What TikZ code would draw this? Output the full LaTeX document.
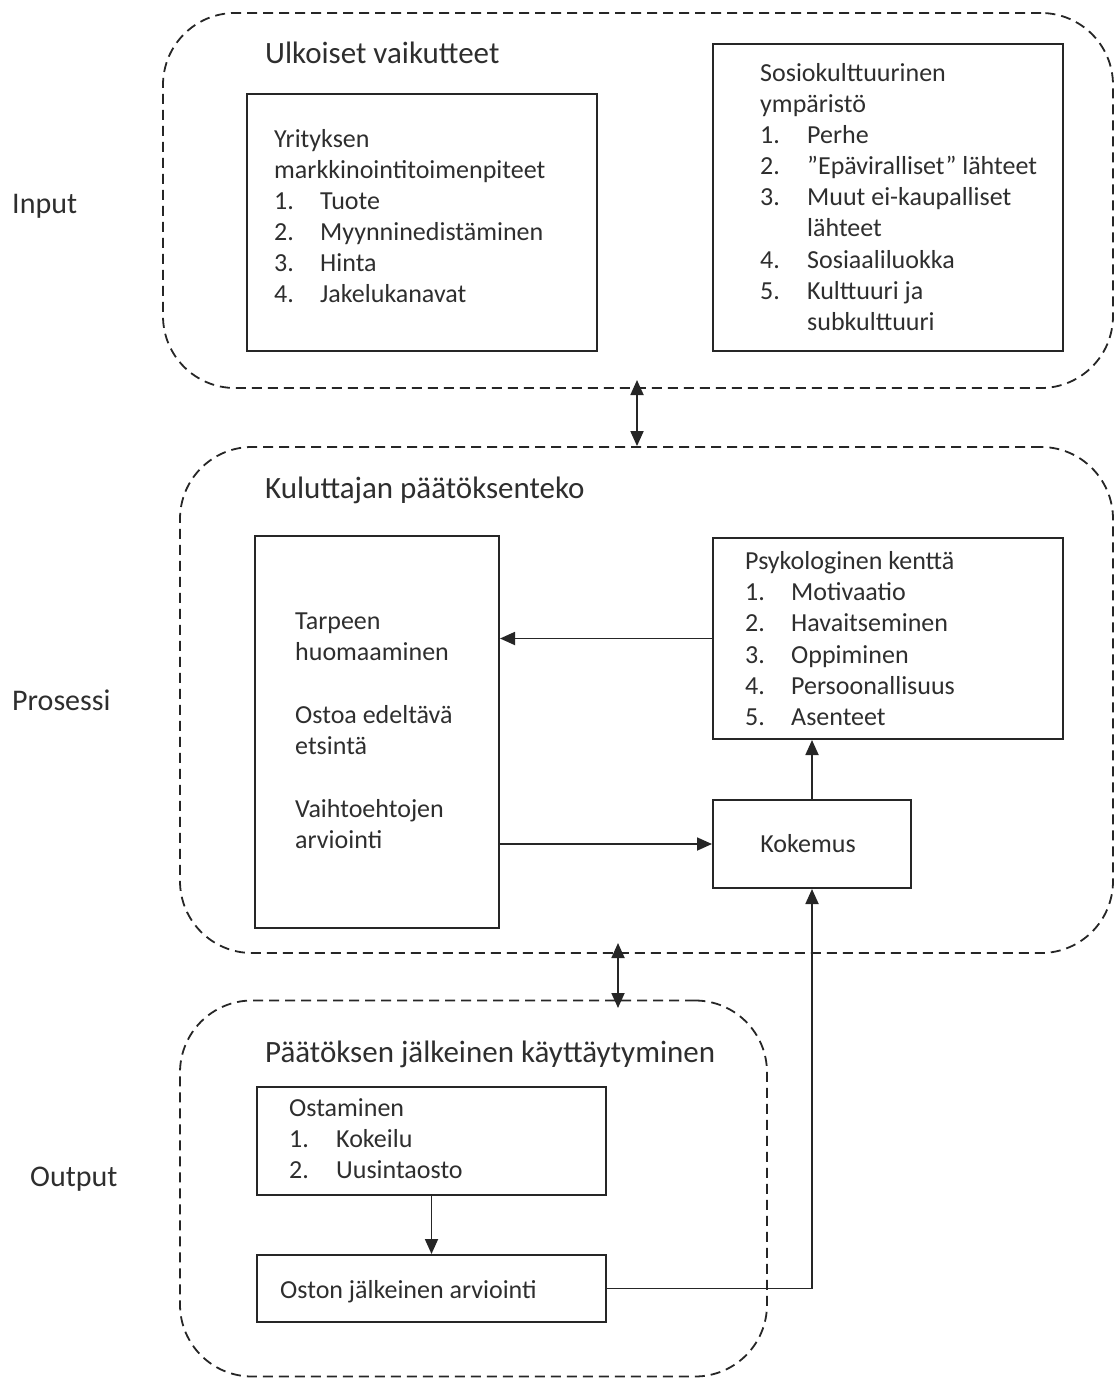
\documentclass[tikz,border=0pt]{standalone}
\usepackage{fontspec}
\setmainfont{Carlito}
\usetikzlibrary{arrows.meta}
\definecolor{ink}{HTML}{262626}
\definecolor{txt}{HTML}{2E2E2E}
\begin{document}
\begin{tikzpicture}[x=1pt,y=-1pt,
  frame/.style={draw=ink, line width=1.8pt, dash pattern=on 10pt off 6pt,
    rounded corners=72pt, inner sep=0pt},
  box/.style={draw=ink, line width=2pt, inner sep=0pt},
  conn/.style={draw=ink, line width=1.8pt, -{Triangle[length=15pt,width=13pt]}},
  both/.style={draw=ink, line width=1.8pt,
    {Triangle[length=15pt,width=13pt]}-{Triangle[length=15pt,width=13pt]}},
  body/.style={font=\fontsize{26}{31}\selectfont, text=txt, inner sep=0pt,
    anchor=west, text height=20pt, text depth=3pt},
  head/.style={font=\fontsize{31}{36}\selectfont, text=txt, inner sep=0pt,
    anchor=west, text height=24pt, text depth=3pt},
  side/.style={head, font=\fontsize{30}{35}\selectfont}
]
\useasboundingbox (0,0) rectangle (1115,1378);

% dashed group frames
\node[frame, minimum width=950pt, minimum height=375pt] (fin) at (638,200.5) {};
\node[frame, minimum width=933pt, minimum height=506pt] (fproc) at (646.5,700) {};
\node[frame, minimum width=587pt, minimum height=376pt] (fout) at (473.5,1188.5) {};

% side labels
\node[side] (lin) at (12,203) {Input};
\node[side] (lproc) at (12,700) {Prosessi};
\node[side] (lout) at (30,1176) {Output};

% group headings
\node[head] (hin) at (265,53) {Ulkoiset vaikutteet};
\node[head] (hproc) at (265,488) {Kuluttajan päätöksenteko};
\node[head] (hout) at (265,1052) {Päätöksen jälkeinen käyttäytyminen};

% input boxes
\node[box, minimum width=350pt, minimum height=257pt] (yrit) at (422,222.5) {};
\node[box, minimum width=350pt, minimum height=307pt] (sosio) at (888,197.5) {};

\node[body] (y1) at (274,139) {Yrityksen};
\node[body] (y2) at (274,170) {markkinointitoimenpiteet};
\foreach \n/\y/\t in {1/201/Tuote, 2/232/Myynninedistäminen, 3/263/Hinta, 4/294/Jakelukanavat}{
  \node[body] (yn\n) at (274,\y) {\n.};
  \node[body] (yt\n) at (320,\y) {\t};
}

\node[body] (s1) at (760,73) {Sosiokulttuurinen};
\node[body] (s2) at (760,104) {ympäristö};
\foreach \n/\y/\t in {1/135/Perhe, 2/166/”Epäviralliset” lähteet, 3/197/Muut ei-kaupalliset,
  4/260/Sosiaaliluokka, 5/291/Kulttuuri ja}{
  \node[body] (sn\n) at (760,\y) {\n.};
  \node[body] (st\n) at (807,\y) {\t};
}
\node[body] (st3b) at (807,228) {lähteet};
\node[body] (st5b) at (807,322) {subkulttuuri};

% process boxes
\node[box, minimum width=244pt, minimum height=392pt] (left) at (377,732) {};
\node[box, minimum width=350pt, minimum height=201pt] (psyk) at (888,638.5) {};
\node[box, minimum width=198pt, minimum height=88pt] (kok) at (812,844) {};

\node[body] (p1) at (295,621) {Tarpeen};
\node[body] (p2) at (295,652) {huomaaminen};
\node[body] (p3) at (295,715) {Ostoa edeltävä};
\node[body] (p4) at (295,746) {etsintä};
\node[body] (p5) at (295,809) {Vaihtoehtojen};
\node[body] (p6) at (295,840) {arviointi};

\node[body] (k0) at (745,561) {Psykologinen kenttä};
\foreach \n/\y/\t in {1/592/Motivaatio, 2/623/Havaitseminen, 3/655/Oppiminen,
  4/686/Persoonallisuus, 5/717/Asenteet}{
  \node[body] (kn\n) at (745,\y) {\n.};
  \node[body] (kt\n) at (791,\y) {\t};
}
\node[body, anchor=center] (ktext) at ([xshift=-4pt]kok.center) {Kokemus};

% output boxes
\node[box, minimum width=349pt, minimum height=108pt] (ost) at (431.5,1141) {};
\node[box, minimum width=349pt, minimum height=67pt] (oston) at (431.5,1288.5) {};

\node[body] (o0) at (289,1108) {Ostaminen};
\foreach \n/\y/\t in {1/1139/Kokeilu, 2/1170/Uusintaosto}{
  \node[body] (on\n) at (289,\y) {\n.};
  \node[body] (ot\n) at (336,\y) {\t};
}
\node[body] (oe) at (280,1290) {Oston jälkeinen arviointi};

% connectors
\draw[conn] (psyk.west) -- (psyk.west -| left.east);
\draw[conn] (kok.west -| left.east) -- (kok.west);
\draw[conn] (kok.north) -- (kok.north |- psyk.south);
\draw[conn] (ost.south) -- (oston.north);
\draw[conn] (oston.east) -| (kok.south);

\coordinate (a1) at (637,380);
\draw[both] (a1) -- (a1 |- fproc.north);
\coordinate (a2) at (618,943);
\coordinate (a3) at (618,1008);
\draw[both] (a2) -- (a3);
\end{tikzpicture}
\end{document}
